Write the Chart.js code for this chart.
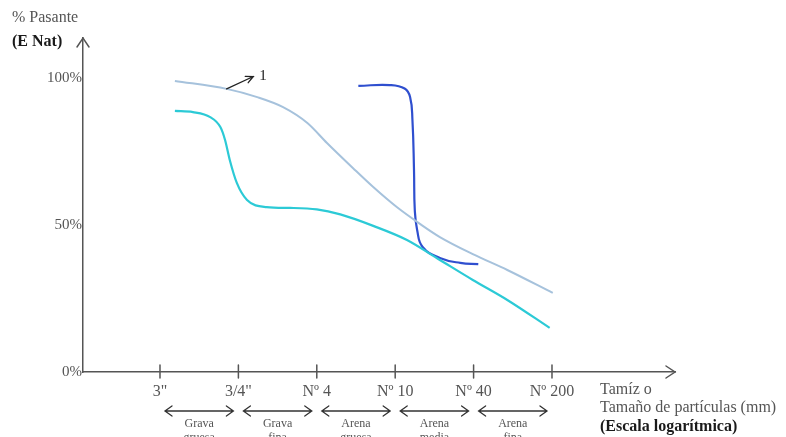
<!DOCTYPE html>
<html><head><meta charset="utf-8">
<script src="https://cdn.jsdelivr.net/npm/chart.js@4/dist/chart.umd.min.js"></script>
<style>html,body{margin:0;padding:0;background:#fff}</style>
</head><body>
<canvas id="c" width="786" height="437"></canvas>
<script>
// Sieve categories on the (schematic, log) x axis: index 0..5
const sieveLabels = ['3"', '3/4"', 'Nº 4', 'Nº 10', 'Nº 40', 'Nº 200'];
const yTickValues = [0, 50, 100];
const rangeTop = ['Grava', 'Grava', 'Arena', 'Arena', 'Arena'];
const rangeBottom = ['gruesa', 'fina', 'gruesa', 'media', 'fina'];

// Curve 1 (light blue, well graded)
const curve1X = [0.19, 0.85, 1.24, 1.57, 1.88, 2.13, 2.46, 2.72, 3.02, 3.32, 3.57, 3.99, 4.43, 5.01];
const curve1Y = [99.0, 96.3, 93.5, 90.1, 84.7, 77.9, 69.4, 62.9, 56.1, 50.3, 45.9, 40.1, 34.7, 26.9];

// Curve 2 (cyan, gap graded)
const curve2X = [0.19, 0.42, 0.64, 0.77, 0.83, 0.89, 0.98, 1.11, 1.36, 1.66, 2.00, 2.30, 2.72, 3.15, 3.57, 3.99, 4.43, 4.97];
const curve2Y = [88.8, 88.4, 86.7, 83.3, 78.9, 72.1, 64.3, 58.5, 56.1, 55.8, 55.3, 53.6, 49.7, 44.9, 38.1, 31.3, 24.5, 15.0];

// Curve 3 (dark blue, uniform)
const curve3X = [2.53, 2.93, 3.12, 3.19, 3.22, 3.24, 3.25, 3.28, 3.35, 3.57, 3.83, 4.06];
const curve3Y = [97.3, 97.6, 96.4, 93.5, 85.7, 68.7, 55.1, 48.3, 42.5, 38.8, 37.1, 36.7];

// Annotation "1" (arrow from a point on curve 1)
const note1From = {x: 0.85, y: 96.3};
const note1To = {x: 1.19, y: 100.5};
const note1Text = '1';

const pts = (xs, ys) => xs.map((x, i) => ({x, y: ys[i]}));
const SERIF = '"Liberation Serif", "DejaVu Serif", serif';

const deco = {
  id: 'deco',
  afterDraw(chart) {
    const {ctx, chartArea: a, scales: {x, y}} = chart;
    ctx.save();
    ctx.strokeStyle = '#555';
    ctx.lineWidth = 1.5;
    ctx.lineCap = 'round';
    // axis arrowheads
    ctx.beginPath();
    ctx.moveTo(a.left - 6, a.top + 9); ctx.lineTo(a.left, a.top); ctx.lineTo(a.left + 6, a.top + 9);
    ctx.moveTo(a.right - 9, a.bottom - 6); ctx.lineTo(a.right, a.bottom); ctx.lineTo(a.right - 9, a.bottom + 6);
    ctx.stroke();
    // tick marks crossing the x axis
    ctx.beginPath();
    sieveLabels.forEach((_, i) => {
      const px = x.getPixelForValue(i);
      ctx.moveTo(px, a.bottom - 7); ctx.lineTo(px, a.bottom + 6);
    });
    ctx.stroke();
    // range double arrows
    ctx.strokeStyle = '#333';
    ctx.lineWidth = 1.3;
    const ay = a.bottom + 39;
    rangeTop.forEach((t, i) => {
      const x0 = x.getPixelForValue(i) + 5, x1 = x.getPixelForValue(i + 1) - 5;
      ctx.beginPath();
      ctx.moveTo(x0, ay); ctx.lineTo(x1, ay);
      ctx.moveTo(x0 + 7, ay - 5); ctx.lineTo(x0, ay); ctx.lineTo(x0 + 7, ay + 5);
      ctx.moveTo(x1 - 7, ay - 5); ctx.lineTo(x1, ay); ctx.lineTo(x1 - 7, ay + 5);
      ctx.stroke();
      ctx.fillStyle = '#555';
      ctx.font = '12px ' + SERIF;
      ctx.textAlign = 'center';
      ctx.textBaseline = 'middle';
      ctx.fillText(t, (x0 + x1) / 2, ay + 13);
      ctx.fillText(rangeBottom[i], (x0 + x1) / 2, ay + 27);
    });
    // annotation "1"
    const fx = x.getPixelForValue(note1From.x), fy = y.getPixelForValue(note1From.y);
    const tx = x.getPixelForValue(note1To.x), ty = y.getPixelForValue(note1To.y);
    ctx.strokeStyle = '#222';
    ctx.lineWidth = 1.3;
    ctx.beginPath();
    ctx.moveTo(fx, fy); ctx.lineTo(tx, ty);
    const ang = Math.atan2(ty - fy, tx - fx);
    ctx.moveTo(tx - 8 * Math.cos(ang - 0.45), ty - 8 * Math.sin(ang - 0.45));
    ctx.lineTo(tx, ty);
    ctx.lineTo(tx - 8 * Math.cos(ang + 0.45), ty - 8 * Math.sin(ang + 0.45));
    ctx.stroke();
    ctx.fillStyle = '#222';
    ctx.font = '15px ' + SERIF;
    ctx.textAlign = 'left';
    ctx.textBaseline = 'middle';
    ctx.fillText(note1Text, tx + 6, ty);
    // y axis title
    ctx.fillStyle = '#555';
    ctx.font = '16px ' + SERIF;
    ctx.fillText('% Pasante', 12, 18);
    ctx.fillStyle = '#1a1a1a';
    ctx.font = 'bold 16px ' + SERIF;
    ctx.fillText('(E Nat)', 12, 42);
    // x axis title
    const tl = a.right - 75;
    ctx.fillStyle = '#555';
    ctx.font = '16px ' + SERIF;
    ctx.fillText('Tamíz o', tl, a.bottom + 18);
    ctx.fillText('Tamaño de partículas (mm)', tl, a.bottom + 36);
    ctx.fillStyle = '#1a1a1a';
    ctx.font = 'bold 16px ' + SERIF;
    ctx.fillText('(Escala logarítmica)', tl, a.bottom + 55);
    ctx.restore();
  }
};

new Chart(document.getElementById('c'), {
  type: 'scatter',
  data: {
    datasets: [
      {data: pts(curve1X, curve1Y), showLine: true, borderColor: '#a6c2dc', borderWidth: 2, pointRadius: 0, cubicInterpolationMode: 'monotone'},
      {data: pts(curve2X, curve2Y), showLine: true, borderColor: '#2ccad6', borderWidth: 2.2, pointRadius: 0, cubicInterpolationMode: 'monotone'},
      {data: pts(curve3X, curve3Y), showLine: true, borderColor: '#2f4fcf', borderWidth: 2.2, pointRadius: 0, tension: 0.45}
    ]
  },
  options: {
    responsive: false,
    animation: false,
    layout: {padding: {left: 0, right: 111, top: 38, bottom: 0}},
    plugins: {legend: {display: false}, tooltip: {enabled: false}},
    scales: {
      x: {
        type: 'linear', min: -0.982, max: 6.569,
        afterBuildTicks: s => { s.ticks = sieveLabels.map((_, i) => ({value: i})); },
        afterFit: s => { s.height = 65; s.paddingLeft = 0; s.paddingRight = 0; },
        grid: {display: false, drawTicks: false},
        border: {display: true, color: '#555', width: 1.5},
        ticks: {
          callback: v => sieveLabels[v] ?? '',
          padding: 10, maxRotation: 0, autoSkip: false,
          color: '#555', font: {family: SERIF, size: 16}
        }
      },
      y: {
        type: 'linear', min: 0, max: 113.6,
        afterBuildTicks: s => { s.ticks = yTickValues.map(v => ({value: v})); },
        afterFit: s => { s.width = 83; s.paddingTop = 0; s.paddingBottom = 0; },
        grid: {display: false, drawTicks: false},
        border: {display: true, color: '#555', width: 1.5},
        ticks: {
          callback: v => v + '%',
          padding: 1, color: '#555', font: {family: SERIF, size: 15}
        }
      }
    }
  },
  plugins: [deco]
});
</script>
</body></html>
